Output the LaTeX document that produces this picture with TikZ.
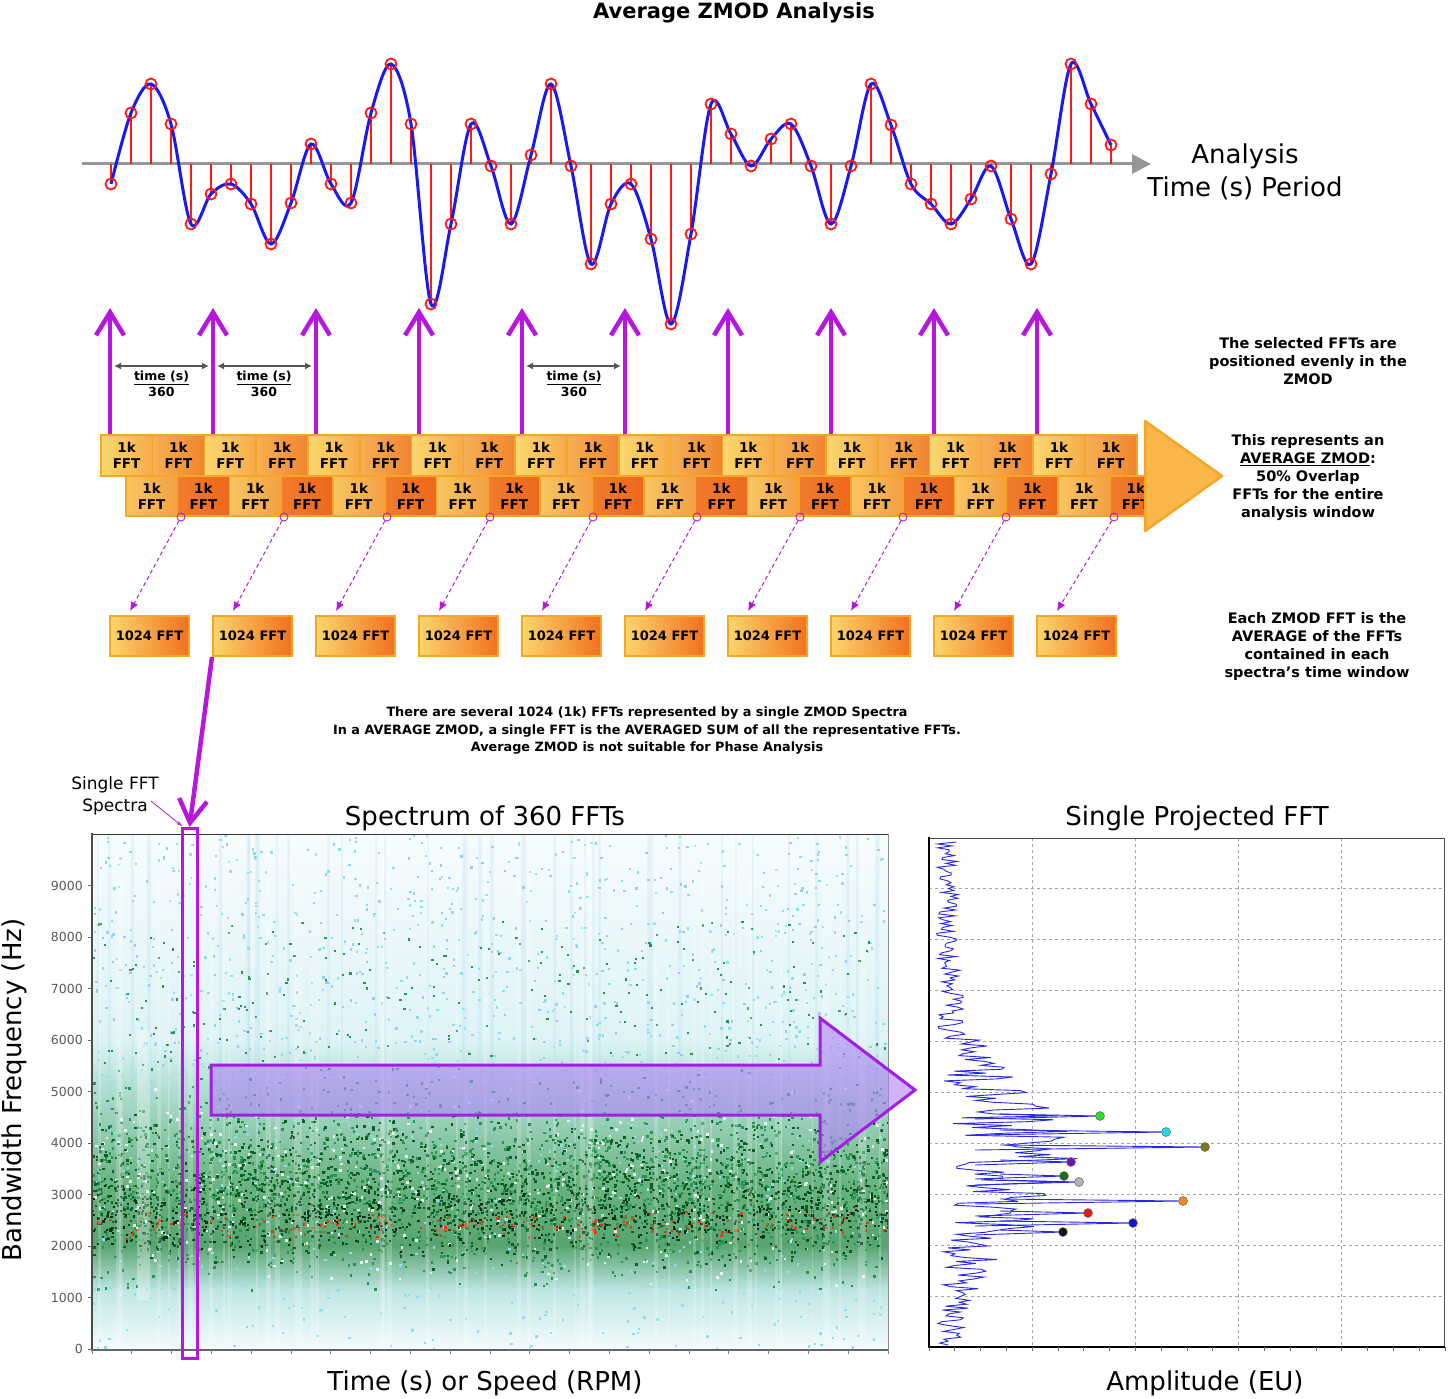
\documentclass[tikz,border=0pt]{standalone}
\usepackage{fontspec}
\setmainfont{DejaVu Sans}
\usetikzlibrary{arrows.meta,calc}
\definecolor{zpurple}{RGB}{182,22,222}
\definecolor{wblue}{RGB}{25,25,240}
\definecolor{wred}{RGB}{255,25,25}
\definecolor{axgray}{RGB}{150,150,150}
\definecolor{obord}{RGB}{245,166,35}
\definecolor{tlL}{RGB}{251,216,110}
\definecolor{tlR}{RGB}{246,172,74}
\definecolor{tdL}{RGB}{247,176,84}
\definecolor{tdR}{RGB}{240,132,46}
\definecolor{blL}{RGB}{249,198,98}
\definecolor{blR}{RGB}{242,160,66}
\definecolor{bdL}{RGB}{242,124,44}
\definecolor{bdR}{RGB}{237,104,28}
\definecolor{bxL}{RGB}{250,214,108}
\definecolor{bxR}{RGB}{242,112,32}
\definecolor{arrowfill}{RGB}{251,184,74}
\definecolor{ticklab}{RGB}{90,90,90}
\definecolor{dimgray}{RGB}{85,85,85}
\definecolor{sA}{RGB}{246,252,253}
\definecolor{sB}{RGB}{222,243,246}
\definecolor{sC}{RGB}{178,224,212}
\definecolor{sD}{RGB}{104,178,128}
\definecolor{sE}{RGB}{88,164,112}
\definecolor{sF}{RGB}{190,230,228}
\definecolor{sG}{RGB}{244,251,253}
\definecolor{dotcyan}{RGB}{140,222,234}
\definecolor{dotblue}{RGB}{160,200,240}
\definecolor{dotgreen}{RGB}{40,150,80}
\definecolor{dotdkgreen}{RGB}{12,96,38}
\definecolor{dotblack}{RGB}{8,48,22}
\definecolor{dotred}{RGB}{228,58,16}
\definecolor{streakblue}{RGB}{150,200,235}
\definecolor{bigpurple}{RGB}{176,130,245}
\definecolor{bigpurpleline}{RGB}{162,30,230}
\definecolor{fftblue}{RGB}{40,40,235}
\definecolor{gridgray}{RGB}{165,165,165}
\newcommand\zfs[2]{\fontsize{#1}{#2}\selectfont}
\tikzset{
  selarrow/.style={draw=zpurple, line width=4.5pt, -{Straight Barb[length=23pt,width=28pt]}},
  dimarrow/.style={draw=dimgray, line width=1.3pt, {Latex[length=7pt,width=7pt]}-{Latex[length=7pt,width=7pt]}},
  dimlabel/.style={align=center, font=\zfs{12.5}{16}\bfseries, inner sep=0pt},
  fftcell/.style={draw=obord, line width=1.6pt, minimum width=51.8pt, minimum height=40.5pt, inner sep=0pt, align=center, font=\zfs{13.5}{16}\bfseries},
  zbox/.style={draw=obord, line width=2pt, left color=bxL, right color=bxR, minimum width=79pt, minimum height=40pt, inner sep=0pt, font=\zfs{13}{15}\bfseries},
  pcirc/.style={draw=zpurple, circle, minimum size=8pt, inner sep=0pt, line width=0.9pt},
  dashconn/.style={draw=zpurple, line width=1pt, dash pattern=on 4pt off 3pt, -{Latex[length=9pt,width=8pt]}},
  rtext/.style={align=center, font=\zfs{14.5}{18}\bfseries, inner sep=0pt},
  bigtext/.style={font=\zfs{26}{30}, inner sep=0pt},
  ticklabel/.style={anchor=east, font=\zfs{12.5}{14}, text=ticklab, inner sep=0pt},
  fftdot/.style={circle, draw=black!55, line width=0.6pt, minimum size=9pt, inner sep=0pt},
  fftline/.style={draw=fftblue, line width=0.9pt},
}
\begin{document}
\begin{tikzpicture}[x=1pt,y=-1pt]
\useasboundingbox (0,0) rectangle (1453,1399);
\fill[white] (0,0) rectangle (1453,1399);

% ---------- title ----------
\node[font=\zfs{21}{24}\bfseries, inner sep=0pt] (title) at (734,13) {Average ZMOD Analysis};

% ---------- waveform ----------
\coordinate (axs) at (82,164);
\coordinate (axe) at (1151,164);
\draw[axgray, line width=3pt, -{Triangle[length=19pt,width=19pt]}] (axs) -- (axe);
\foreach \yv [count=\k from 0] in {184,113,84,124,224,194,184,204,244,203,144,184,203,113,64,124,304,224,124,166,224,155,84,166,264,204,184,239,324,234,104,134,166,139,124,166,224,166,84,125,184,204,224,199,166,219,264,174,64,104,145} {
  \coordinate (s\k) at (111+20*\k,\yv);
  \coordinate (z\k) at (111+20*\k,164);
  \draw[wred, line width=1.6pt] (z\k) -- (s\k);
}
\draw[wblue, line width=3pt] plot[smooth, tension=0.55] coordinates {(111,184) (131,113) (151,84) (171,124) (191,224) (211,194) (231,184) (251,204) (271,244) (291,203) (311,144) (331,184) (351,203) (371,113) (391,64) (411,124) (431,304) (451,224) (471,124) (491,166) (511,224) (531,155) (551,84) (571,166) (591,264) (611,204) (631,184) (651,239) (671,324) (691,234) (711,104) (731,134) (751,166) (771,139) (791,124) (811,166) (831,224) (851,166) (871,84) (891,125) (911,184) (931,204) (951,224) (971,199) (991,166) (1011,219) (1031,264) (1051,174) (1071,64) (1091,104) (1111,145)};
\foreach \k in {0,...,50} {
  \draw[wred, line width=1.8pt] (s\k) circle[radius=5.5];
}
\node[bigtext] (an1) at (1245,156) {Analysis};
\node[bigtext] (an2) at (1245,188) {Time (s) Period};

% ---------- selection arrows ----------
\foreach \k in {0,...,9} {
  \coordinate (pa\k) at (110+103*\k,436);
  \coordinate (pt\k) at (110+103*\k,308);
  \draw[selarrow] (pa\k) -- (pt\k);
}
% time dimensions
\coordinate (d1a) at (114,366); \coordinate (d1b) at (209,366);
\coordinate (d2a) at (217,366); \coordinate (d2b) at (312,366);
\coordinate (d3a) at (526,366); \coordinate (d3b) at (621,366);
\draw[dimarrow] (d1a) -- (d1b);
\draw[dimarrow] (d2a) -- (d2b);
\draw[dimarrow] (d3a) -- (d3b);
\node[dimlabel] (tl1) at (161.5,384) {\underline{time (s)}\\360};
\node[dimlabel] (tl2) at (264,384) {\underline{time (s)}\\360};
\node[dimlabel] (tl3) at (574,384) {\underline{time (s)}\\360};

% ---------- FFT rows ----------
\foreach \k in {0,...,19} {
  \ifodd\k
    \node[fftcell, left color=tdL, right color=tdR] (t\k) at (126.6+51.8*\k,455.5) {1k\\FFT};
  \else
    \node[fftcell, left color=tlL, right color=tlR] (t\k) at (126.6+51.8*\k,455.5) {1k\\FFT};
  \fi
}
\foreach \k in {0,...,19} {
  \ifodd\k
    \node[fftcell, left color=bdL, right color=bdR] (u\k) at (151.6+51.8*\k,496) {1k\\FFT};
  \else
    \node[fftcell, left color=blL, right color=blR] (u\k) at (151.6+51.8*\k,496) {1k\\FFT};
  \fi
}
\fill[arrowfill, draw=obord, line width=2.5pt, line join=round] (1145,421) -- (1222,476) -- (1145,531) -- cycle;

% ---------- 1024 FFT boxes ----------
\foreach \cx [count=\k from 0] in {181,284,387,490,593,697,800,903,1006,1114} {
  \node[zbox] (b\k) at (149.5+103*\k,636) {1024 FFT};
  \node[pcirc] (c\k) at (\cx,517) {};
  \coordinate (bt\k) at ($(b\k.north west)+(21,-4)$);
  \draw[dashconn] (c\k) -- (bt\k);
}

% ---------- right notes ----------
\node[rtext] (n1) at (1308,361.5) {The selected FFTs are\\positioned evenly in the\\ZMOD};
\node[rtext] (n2) at (1308,477.5) {This represents an\\\underline{AVERAGE ZMOD}:\\50\% Overlap\\FFTs for the entire\\analysis window};
\node[rtext] (n3) at (1317,646.5) {Each ZMOD FFT is the\\AVERAGE of the FFTs\\contained in each\\spectra’s time window};

% ---------- middle note ----------
\node[align=center, font=\zfs{12.8}{17.5}\bfseries, inner sep=0pt] (mid) at (647,731) {There are several 1024 (1k) FFTs represented by a single ZMOD Spectra\\In a AVERAGE ZMOD, a single FFT is the AVERAGED SUM of all the representative FFTs.\\Average ZMOD is not suitable for Phase Analysis};

% ---------- spectrogram ----------
\node[bigtext] (sptitle) at (485,818) {Spectrum of 360 FFTs};
\begin{scope}
\clip (92,834) rectangle (888,1349);
\pgfmathsetseed{11}
\fill[top color=sA, bottom color=sB] (92,834) rectangle (888,1040.5);
\fill[top color=sB, bottom color=sC] (92,1040) rectangle (888,1085.5);
\fill[top color=sC, bottom color=sD] (92,1085) rectangle (888,1185.5);
\fill[top color=sD, bottom color=sE] (92,1185) rectangle (888,1245.5);
\fill[top color=sE, bottom color=sF] (92,1245) rectangle (888,1290.5);
\fill[top color=sF, bottom color=sG] (92,1290) rectangle (888,1349);
\foreach \i in {1,...,40} {\fill[streakblue, opacity=0.15] ({92+796*rnd},834) rectangle +({1.5+3*rnd},300);}
\foreach \i in {1,...,1000} {\fill[dotcyan] ({92+796*rnd},{834+515*rnd}) rectangle ++(2.3,2.3);}
\foreach \i in {1,...,400} {\fill[dotblue] ({92+796*rnd},{834+260*rnd}) rectangle ++(2.3,2.3);}
\foreach \i in {1,...,250} {\fill[dotgreen] ({92+796*rnd},{920+150*rnd}) rectangle ++(2.2,2.2);}
\foreach \i in {1,...,1800} {\fill[dotgreen] ({92+796*rnd},{1065+115*(rnd+rnd)}) rectangle ++(2.4,2.4);}
\foreach \i in {1,...,400} {\fill[white, opacity=0.8] ({92+796*rnd},{1070+110*(rnd+rnd)}) rectangle ++(2.6,2.6);}
\foreach \i in {1,...,1800} {\fill[dotdkgreen] ({92+796*rnd},{1110+80*(rnd+rnd)}) rectangle ++(2.4,2.4);}
\foreach \i in {1,...,700} {\fill[dotblack] ({92+796*rnd},{1175+40*(rnd+rnd)}) rectangle ++(2.2,2.2);}
\foreach \i in {1,...,150} {\fill[dotred] ({92+796*rnd},{1208+16*(rnd+rnd)}) rectangle ++(2.4,2.4);}
\foreach \i in {1,...,50} {\fill[white, opacity=0.2] ({92+796*rnd},834) rectangle +({1.5+4*rnd},515);}
\fill[white, opacity=0.3] (137,1030) rectangle (150,1300);
\end{scope}
% axes
\draw[black!80, line width=1pt] (92,834) -- (888,834);
\draw[black!45, line width=0.8pt] (888,834) -- (888,1350);
\draw[black!70, line width=2.2pt] (92,833) -- (92,1350);
\draw[black!60, line width=2.2pt] (91,1350) -- (888,1350);
\foreach \f [count=\j from 0] in {0,1000,2000,3000,4000,5000,6000,7000,8000,9000} {
  \coordinate (yt\j) at (92,1349.3-51.5*\j);
  \draw[black!60, line width=0.8pt] (yt\j) -- ++(-4,0);
  \node[ticklabel] (yl\j) at (83,1349.3-51.5*\j) {\f};
}
\foreach \i in {0,...,20} {\draw[black!50, line width=0.8pt] (92+39.8*\i,1350) -- ++(0,4);}
\node[bigtext, rotate=90] (ylab) at (14,1090) {Bandwidth Frequency (Hz)};
\node[bigtext] (xlab) at (485,1383) {Time (s) or Speed (RPM)};

% single FFT marker
\draw[zpurple, line width=3pt] (182,828) rectangle (197,1358);
\coordinate (spt) at (189.5,827);
\draw[selarrow] (b1.south west) -- (spt);
\node[align=center, font=\zfs{17}{21.5}, inner sep=0pt] (sfs) at (115,796) {Single FFT\\Spectra};
\coordinate (sfa) at (151,801);
\coordinate (sfb) at (182,826);
\draw[zpurple, line width=0.8pt, -{Stealth[length=6pt,width=4pt]}] (sfa) -- (sfb);

% big purple arrow
\fill[bigpurple, fill opacity=0.6] (211,1065) -- (820,1065) -- (820,1018) -- (915,1090) -- (820,1162) -- (820,1115) -- (211,1115) -- cycle;
\draw[bigpurpleline, line width=3pt, line join=miter] (211,1065) -- (820,1065) -- (820,1018) -- (915,1090) -- (820,1162) -- (820,1115) -- (211,1115) -- cycle;

% ---------- single projected FFT ----------
\node[bigtext] (fftitle) at (1197,818) {Single Projected FFT};
\foreach \i in {1,...,4} {\draw[gridgray, line width=0.9pt, dash pattern=on 3pt off 3pt] (929+103.2*\i,838) -- (929+103.2*\i,1347);}
\foreach \i in {1,...,9} {\draw[gridgray, line width=0.9pt, dash pattern=on 3pt off 3pt] (929,838+50.9*\i) -- (1444,838+50.9*\i);}
\draw[black!70, line width=1pt] (929,838) -- (1444,838) -- (1444,1347);
\draw[black, line width=2.5pt] (929,837) -- (929,1347) -- (1445,1347);
\foreach \i in {0,...,20} {\draw[black!60, line width=0.8pt] (929+25.8*\i,1347) -- ++(0,4);}
\pgfmathsetseed{5}
\draw[fftline] plot[domain=842:1345, samples=260, variable=\t] ({934+(24+125*exp(-((\t-1160)/95)*((\t-1160)/95)))*(0.1+0.9*rnd)}, \t);
\foreach \xd/\yd/\cc [count=\k] in {1100/1116/{rgb,255:red,40;green,220;blue,40},1166/1132/{rgb,255:red,30;green,220;blue,230},1205/1147/{rgb,255:red,120;green,120;blue,20},1071/1162/{rgb,255:red,110;green,20;blue,180},1064/1176/{rgb,255:red,20;green,110;blue,20},1079/1182/{rgb,255:red,180;green,180;blue,180},1183/1201/{rgb,255:red,240;green,140;blue,20},1088/1213/{rgb,255:red,235;green,20;blue,20},1133/1223/{rgb,255:red,20;green,20;blue,200},1063/1232/{rgb,255:red,20;green,20;blue,20}} {
  \coordinate (sp\k) at (\xd,\yd);
  \draw[fftline] (975,\yd+3) -- (sp\k) -- (1000,\yd-2);
  \node[fftdot, fill=\cc] (dot\k) at (sp\k) {};
}
\node[bigtext] (amp) at (1205,1383) {Amplitude (EU)};
\end{tikzpicture}
\end{document}
